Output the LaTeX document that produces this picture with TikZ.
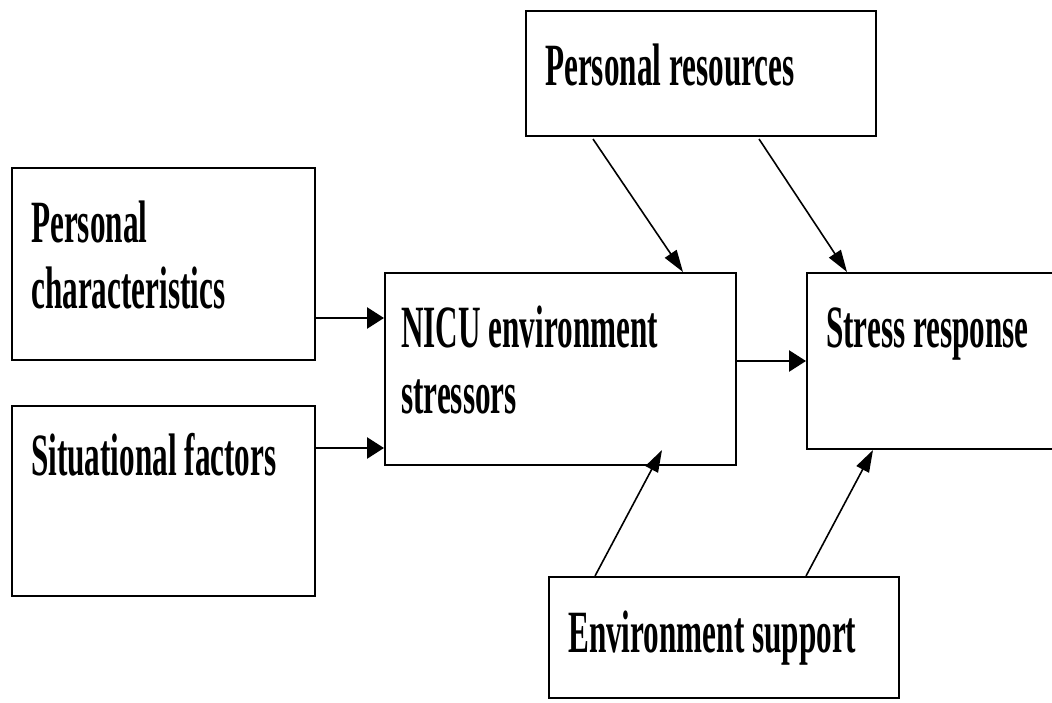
\documentclass[tikz,border=0pt]{standalone}
\usepackage{fontspec}
\setmainfont{Liberation Serif}[FakeStretch=0.52]
\usetikzlibrary{arrows.meta}
\begin{document}
\begin{tikzpicture}[x=1pt,y=-1pt,
  box/.style={draw, line width=2pt, rectangle, inner sep=0pt, anchor=north west},
  lbl/.style={anchor=base west, inner sep=0pt, font=\fontsize{60}{66}\selectfont\bfseries},
  harr/.style={line width=2.6pt, -{Triangle[length=17pt,width=21pt]}},
  darr/.style={line width=1.6pt, -{Triangle[length=22pt,width=14pt]}}]
\useasboundingbox (0,0) rectangle (1052,702);
% boxes
\node[box, minimum width=303pt, minimum height=192pt] (pc) at (11,167) {};
\node[box, minimum width=303pt, minimum height=190pt] (sf) at (11,405) {};
\node[box, minimum width=351pt, minimum height=192pt] (nicu) at (384,272) {};
\node[box, minimum width=260pt, minimum height=176pt] (sr) at (806,272) {};
\node[box, minimum width=350pt, minimum height=125pt] (pr) at (525,10) {};
\node[box, minimum width=350pt, minimum height=121pt] (es) at (548,576) {};
% labels
\node[lbl] (t1) at (31,242) {Personal};
\node[lbl] (t2) at (31,308) {characteristics};
\node[lbl] (t3) at (31,475) {Situational factors};
\node[lbl] (t4) at (401,347) {NICU environment};
\node[lbl] (t5) at (401,413) {stressors};
\node[lbl] (t6) at (826,347) {Stress response};
\node[lbl] (t7) at (545,85) {Personal resources};
\node[lbl] (t8) at (568,652) {Environment support};
% connectors
\path ([yshift=-54pt]pc.east) coordinate (a1);
\draw[harr] (a1) -- (a1 -| nicu.west);
\path ([yshift=53pt]sf.east) coordinate (a2);
\draw[harr] (a2) -- (a2 -| nicu.west);
\path ([yshift=8pt]nicu.east) coordinate (a3);
\draw[harr] (a3) -- (a3 -| sr.west);
\draw[darr] ([xshift=68pt,yshift=-2pt]pr.south west) -- ([xshift=299pt]nicu.north west);
\draw[darr] ([xshift=234pt,yshift=-2pt]pr.south west) -- ([xshift=41pt]sr.north west);
\draw[darr] ([xshift=47pt]es.north west) -- ([xshift=278pt,yshift=16pt]nicu.south west);
\draw[darr] ([xshift=258pt]es.north west) -- ([xshift=67pt]sr.south west);
\end{tikzpicture}
\end{document}
